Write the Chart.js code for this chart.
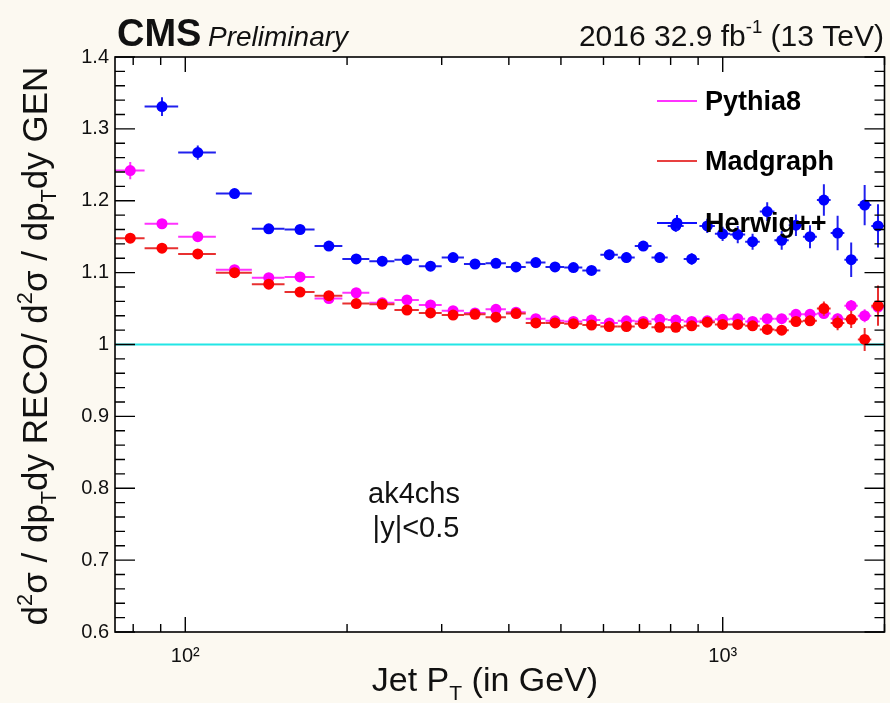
<!DOCTYPE html>
<html><head><meta charset="utf-8">
<script src="https://cdn.jsdelivr.net/npm/chart.js@4.4.1/dist/chart.umd.min.js"></script>
<style>
html,body{margin:0;padding:0;background:#fcf9f1;}
#wrap{width:890px;height:703px;position:relative;}
canvas{display:block;}
</style>
</head><body>
<div id="wrap"><canvas id="c" width="890" height="703"></canvas></div>
<script>
// ---- data ----
const binEdges = [74, 84, 97, 114, 133, 153, 174, 196, 220, 245, 272, 300, 330, 362, 395, 430, 468, 507, 548, 592, 638, 686, 737, 790, 846, 905, 967, 1032, 1101, 1172, 1248, 1327, 1410, 1497, 1588, 1684, 1784, 1890, 2000];
const pythia8 = [1.242,1.168,1.150,1.104,1.093,1.094,1.064,1.072,1.058,1.062,1.055,1.047,1.044,1.049,1.045,1.036,1.033,1.032,1.034,1.030,1.033,1.032,1.035,1.034,1.032,1.033,1.035,1.036,1.032,1.036,1.036,1.042,1.042,1.043,1.036,1.054,1.040,1.052];
const pythia8Err = [0.012,0.005,0.004,0.003,0.003,0.003,0.003,0.003,0.003,0.003,0.003,0.003,0.003,0.003,0.003,0.003,0.003,0.003,0.003,0.003,0.003,0.003,0.003,0.003,0.003,0.004,0.004,0.004,0.004,0.005,0.005,0.005,0.006,0.006,0.007,0.008,0.009,0.010];
const madgraph = [1.148,1.134,1.126,1.100,1.084,1.073,1.068,1.057,1.056,1.048,1.044,1.041,1.042,1.038,1.043,1.030,1.030,1.029,1.027,1.025,1.025,1.029,1.024,1.024,1.026,1.031,1.028,1.028,1.026,1.021,1.020,1.032,1.033,1.050,1.030,1.035,1.007,1.054];
const madgraphErr = [0.004,0.003,0.003,0.003,0.003,0.003,0.003,0.003,0.003,0.003,0.003,0.003,0.003,0.003,0.003,0.003,0.003,0.003,0.003,0.003,0.003,0.003,0.003,0.003,0.004,0.004,0.004,0.005,0.005,0.005,0.006,0.006,0.007,0.010,0.010,0.012,0.016,0.028];
const herwig = [null,1.331,1.267,1.210,1.161,1.160,1.137,1.119,1.116,1.118,1.109,1.121,1.112,1.113,1.108,1.114,1.108,1.107,1.103,1.125,1.121,1.137,1.121,1.165,1.119,1.165,1.154,1.153,1.143,1.185,1.145,1.166,1.150,1.201,1.155,1.118,1.194,1.165];
const herwigErr = [0,0.013,0.010,0.006,0.005,0.005,0.005,0.005,0.005,0.005,0.005,0.005,0.005,0.005,0.005,0.005,0.005,0.006,0.006,0.007,0.007,0.007,0.007,0.008,0.008,0.010,0.010,0.012,0.011,0.013,0.013,0.015,0.016,0.022,0.024,0.024,0.028,0.030];
const seriesNames = ['Pythia8','Madgraph','Herwig++'];
const yTickValues = [0.6,0.7,0.8,0.9,1.0,1.1,1.2,1.3,1.4];
const xMajorTicks = [100,1000];
const xTickLabels = {100:'10\u00B2', 1000:'10\u00B3'};
const xMinorTicks = [80,90,200,300,400,500,600,700,800,900,2000];
const referenceLine = 1.0;

const FONT = '"Liberation Sans", Arial, Helvetica, sans-serif';

function buildPoints(vals, errs){
  const pts = [];
  vals.forEach((v,i)=>{
    if (v === null) return;
    const lo = binEdges[i], hi = binEdges[i+1];
    pts.push({x:(lo+hi)/2, y:v, xlo:lo, xhi:hi, err:errs[i]});
  });
  return pts;
}

const bgPlugin = {
  id:'bg',
  beforeDraw(chart){
    const {ctx, chartArea:a} = chart;
    ctx.save();
    ctx.fillStyle = '#fcf9f1';
    ctx.fillRect(0,0,chart.width,chart.height);
    ctx.fillStyle = '#ffffff';
    ctx.fillRect(a.left,a.top,a.right-a.left,a.bottom-a.top);
    ctx.restore();
  },
  beforeDatasetsDraw(chart){
    const {ctx, chartArea:a, scales:{y}} = chart;
    const py = y.getPixelForValue(referenceLine);
    ctx.save();
    ctx.strokeStyle = '#22e6e6'; ctx.lineWidth = 2;
    ctx.beginPath(); ctx.moveTo(a.left,py); ctx.lineTo(a.right,py); ctx.stroke();
    ctx.restore();
  }
};

const errPlugin = {
  id:'errbars',
  beforeDatasetDraw(chart, args){
    const ds = chart.data.datasets[args.index];
    const {ctx, chartArea:a, scales:{x, y}} = chart;
    ctx.save();
    ctx.beginPath(); ctx.rect(a.left,a.top,a.right-a.left,a.bottom-a.top); ctx.clip();
    ctx.strokeStyle = ds.errColor; ctx.lineWidth = 2;
    ds.data.forEach(p=>{
      const py = y.getPixelForValue(p.y), px = x.getPixelForValue(p.x);
      ctx.beginPath();
      ctx.moveTo(x.getPixelForValue(p.xlo), py); ctx.lineTo(x.getPixelForValue(p.xhi), py);
      ctx.moveTo(px, y.getPixelForValue(p.y - p.err)); ctx.lineTo(px, y.getPixelForValue(p.y + p.err));
      ctx.stroke();
    });
    ctx.restore();
  }
};

function richWidth(ctx, parts, size){
  let w = 0;
  parts.forEach(p=>{
    const s = (p.sup||p.sub) ? size*0.62 : size;
    ctx.font = (p.bold?'bold ':'') + s + 'px ' + FONT;
    w += ctx.measureText(p.t).width;
  });
  return w;
}
function drawRich(ctx, parts, x, y, size, align){
  const w = richWidth(ctx, parts, size);
  let cx = align==='center' ? x - w/2 : (align==='right' ? x - w : x);
  ctx.textAlign = 'left'; ctx.textBaseline = 'alphabetic';
  parts.forEach(p=>{
    const s = (p.sup||p.sub) ? size*0.62 : size;
    ctx.font = (p.bold?'bold ':'') + s + 'px ' + FONT;
    const dy = p.sup ? -size*0.42 : (p.sub ? size*0.25 : 0);
    ctx.fillText(p.t, cx, y + dy);
    cx += ctx.measureText(p.t).width;
  });
}

const decoPlugin = {
  id:'deco',
  afterDraw(chart){
    const {ctx, chartArea:a, scales:{x, y}} = chart;
    ctx.save();
    // frame
    ctx.strokeStyle = '#000'; ctx.lineWidth = 1.6;
    ctx.strokeRect(a.left, a.top, a.right-a.left, a.bottom-a.top);
    ctx.lineWidth = 1.4;
    ctx.beginPath();
    for (let i=0;i<=40;i++){
      const v = 0.6 + i*0.02;
      const py = y.getPixelForValue(v);
      const len = (i%5===0) ? 20 : 10;
      ctx.moveTo(a.left, py); ctx.lineTo(a.left+len, py);
      ctx.moveTo(a.right, py); ctx.lineTo(a.right-len, py);
    }
    xMajorTicks.forEach(t=>{
      const px = x.getPixelForValue(t);
      ctx.moveTo(px,a.bottom); ctx.lineTo(px,a.bottom-15);
      ctx.moveTo(px,a.top); ctx.lineTo(px,a.top+15);
    });
    xMinorTicks.forEach(t=>{
      const px = x.getPixelForValue(t);
      ctx.moveTo(px,a.bottom); ctx.lineTo(px,a.bottom-8);
      ctx.moveTo(px,a.top); ctx.lineTo(px,a.top+8);
    });
    ctx.stroke();

    ctx.fillStyle = '#111';
    // header
    ctx.textBaseline = 'alphabetic';
    ctx.textAlign = 'left';
    ctx.font = 'bold 38px ' + FONT;
    ctx.fillText('CMS', 117, 46);
    ctx.font = 'italic 28px ' + FONT;
    ctx.fillText('Preliminary', 208, 46);
    drawRich(ctx, [{t:'2016 32.9 fb'},{t:'-1',sup:true},{t:' (13 TeV)'}], 884, 46, 30, 'right');

    // annotation
    ctx.textAlign = 'center';
    ctx.font = '29px ' + FONT;
    ctx.fillText('ak4chs', 414, 503);
    ctx.fillText('|y|<0.5', 416, 537);

    // axis titles
    drawRich(ctx, [{t:'Jet P'},{t:'T',sub:true},{t:' (in GeV)'}], 485, 691, 34, 'center');
    ctx.save();
    ctx.translate(47, 346);
    ctx.rotate(-Math.PI/2);
    drawRich(ctx, [{t:'d'},{t:'2',sup:true},{t:'σ / dp'},{t:'T',sub:true},{t:'dy RECO/ d'},{t:'2',sup:true},{t:'σ / dp'},{t:'T',sub:true},{t:'dy GEN'}], 0, 0, 35, 'center');
    ctx.restore();

    // legend
    const leg = [
      {name:seriesNames[0], color:'#ff33ff', y:101, marker:false},
      {name:seriesNames[1], color:'#e84040', y:161, marker:false},
      {name:seriesNames[2], color:'#1010ff', y:223, marker:true}
    ];
    leg.forEach(l=>{
      ctx.strokeStyle = l.color; ctx.lineWidth = 2;
      ctx.beginPath(); ctx.moveTo(657,l.y); ctx.lineTo(697,l.y);
      if (l.marker){ ctx.moveTo(677,l.y-8); ctx.lineTo(677,l.y+8); }
      ctx.stroke();
      if (l.marker){ ctx.fillStyle = '#0000ff'; ctx.beginPath(); ctx.arc(677,l.y,5.5,0,Math.PI*2); ctx.fill(); }
      ctx.fillStyle = '#000';
      ctx.textAlign = 'left'; ctx.textBaseline = 'middle';
      ctx.font = 'bold 27px ' + FONT;
      ctx.fillText(l.name, 705, l.y+2);
    });
    ctx.restore();
  }
};

const chart = new Chart(document.getElementById('c'), {
  type:'scatter',
  data:{
    datasets:[
      {label:seriesNames[0], data:buildPoints(pythia8,pythia8Err), backgroundColor:'#ff00ff', borderColor:'#ff00ff', errColor:'#ff33ff', pointRadius:5.5, pointBorderWidth:0, pointHoverRadius:5.5, order:3},
      {label:seriesNames[1], data:buildPoints(madgraph,madgraphErr), backgroundColor:'#ff0000', borderColor:'#ff0000', errColor:'#e83030', pointRadius:5.5, pointBorderWidth:0, pointHoverRadius:5.5, order:2},
      {label:seriesNames[2], data:buildPoints(herwig,herwigErr), backgroundColor:'#0000ff', borderColor:'#0000ff', errColor:'#2020ee', pointRadius:5.5, pointBorderWidth:0, pointHoverRadius:5.5, order:1}
    ]
  },
  options:{
    responsive:false,
    animation:false,
    devicePixelRatio:1,
    layout:{padding:{left:0,right:5,top:57,bottom:0}},
    plugins:{legend:{display:false}, tooltip:{enabled:false}},
    scales:{
      x:{
        type:'logarithmic', position:'bottom', min:74, max:2000,
        grid:{display:false, drawTicks:false}, border:{display:false},
        afterBuildTicks:(s)=>{ s.ticks = xMajorTicks.map(v=>({value:v})); },
        afterFit:(s)=>{ s.height = 71; },
        ticks:{autoSkip:false, maxRotation:0, padding:12, color:'#111', font:{family:FONT, size:20},
          callback:(v)=> xTickLabels[v] || ''}
      },
      y:{
        type:'linear', position:'left', min:0.6, max:1.4,
        grid:{display:false, drawTicks:false}, border:{display:false},
        afterBuildTicks:(s)=>{ s.ticks = yTickValues.map(v=>({value:v})); },
        afterFit:(s)=>{ s.width = 115; },
        ticks:{padding:6, color:'#111', font:{family:FONT, size:20},
          callback:(v)=> String(Math.round(v*10)/10)}
      }
    }
  },
  plugins:[bgPlugin, errPlugin, decoPlugin]
});
</script>
</body></html>
